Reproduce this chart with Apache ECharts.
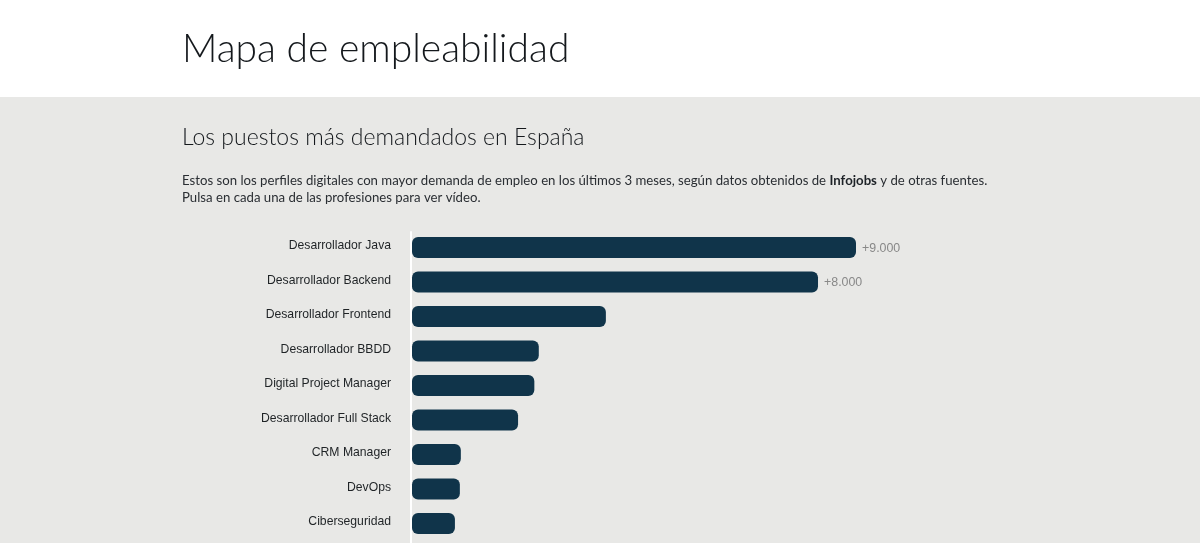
<!DOCTYPE html>
<html><head><meta charset="utf-8">
<style>html,body{margin:0;padding:0;background:#e8e8e6}#c{width:1200px;height:543px}</style>
<script src="https://cdn.jsdelivr.net/npm/echarts@6/dist/echarts.min.js"></script>
</head><body><div id="c"></div>
<script>
const categories = ['Desarrollador Java','Desarrollador Backend','Desarrollador Frontend','Desarrollador BBDD','Digital Project Manager','Desarrollador Full Stack','CRM Manager','DevOps','Ciberseguridad'];
const values = [9000,8230,3930,2570,2480,2150,990,970,870];
const valueLabels = ['+9.000','+8.000','','','','','','',''];
const heading = 'Mapa de empleabilidad';
const subheading = 'Los puestos más demandados en España';
const introLine1a = 'Estos son los perfiles digitales con mayor demanda de empleo en los últimos 3 meses, según datos obtenidos de ';
const introBold = 'Infojobs';
const introLine1b = ' y de otras fuentes.';
const introLine2 = 'Pulsa en cada una de las profesiones para ver vídeo.';

const chart = echarts.init(document.getElementById('c'), null, {renderer:'canvas'});
const textFont = 'Lato,"Open Sans",sans-serif';
chart.setOption({
  animation:false,
  backgroundColor:'#e8e8e6',
  graphic:[{type:'rect',z:-10,shape:{x:0,y:0,width:1200,height:97},style:{fill:'#ffffff'}}],
  title:[
    {text:heading,left:182,top:22,padding:0,textStyle:{fontFamily:textFont,fontWeight:300,fontSize:39,color:'#14181c',lineHeight:54}},
    {text:subheading,left:182,top:122,padding:0,textStyle:{fontFamily:textFont,fontWeight:300,fontSize:23,color:'#14181c',lineHeight:32}},
    {text:'{n|'+introLine1a+'}{b|'+introBold+'}{n|'+introLine1b+'}\n{n|'+introLine2+'}',left:182,top:172,padding:0,
     textStyle:{fontWeight:'normal',rich:{n:{fontFamily:textFont,fontWeight:'normal',fontSize:13.2,color:'#2a2e33',lineHeight:17},b:{fontFamily:textFont,fontSize:13.2,fontWeight:'bold',color:'#1d2227',lineHeight:17}}}}
  ],
  grid:[
    {left:412,top:230.25,width:444,height:310.5,containLabel:false},
    {left:411,top:232,width:10,height:311}
  ],
  xAxis:[
    {type:'value',gridIndex:0,min:0,max:9000,show:false},
    {type:'value',gridIndex:1,show:false}
  ],
  yAxis:[
    {type:'category',gridIndex:0,data:categories,inverse:true,
     axisLine:{show:false},axisTick:{show:false},
     axisLabel:{margin:21,fontFamily:'"Liberation Sans",Arial,sans-serif',fontSize:12.2,color:'#1f2326',verticalAlign:'bottom',lineHeight:3}},
    {type:'value',gridIndex:1,min:0,max:1,
     axisLine:{show:true,onZero:false,lineStyle:{color:'#ffffff',width:2}},axisTick:{show:false},axisLabel:{show:false},splitLine:{show:false}}
  ],
  series:[{
    type:'bar',xAxisIndex:0,yAxisIndex:0,data:values,barWidth:21,
    itemStyle:{color:'#10344a',borderRadius:6},
    label:{show:true,position:'right',distance:6,offset:[0,1],fontFamily:'"Liberation Sans",Arial,sans-serif',fontSize:12.4,color:'#888888',
      formatter:p=>valueLabels[p.dataIndex]}
  }]
});
</script></body></html>
